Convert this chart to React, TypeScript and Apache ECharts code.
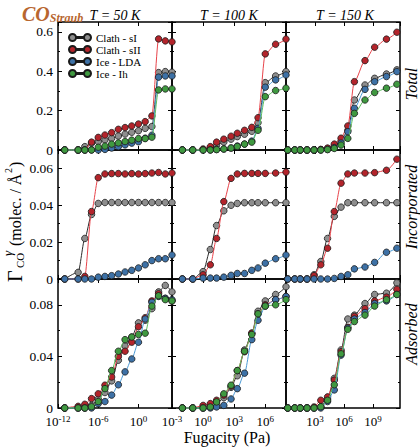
import React, { useEffect, useRef } from "react";
import * as echarts from "echarts";

// ---- data (fugacity in Pa, loadings in molec./Å²) ----
const SERIES_NAMES = ["Clath - sI", "Clath - sII", "Ice - LDA", "Ice - Ih"];
const T_LABELS = ["T = 50 K", "T = 100 K", "T = 150 K"];
const ROW_LABELS = ["Total", "Incorporated", "Adsorbed"];

const F_50 = [1e-11, 1e-9, 1e-8, 1e-7, 1e-6, 1e-5, 1e-4, 1e-3, 1e-2, 1e-1, 1, 10, 100, 1e3, 1e4, 1e5];
const F_100 = [0.01, 0.1, 1, 5, 20, 100, 500, 2e3, 1e4, 5e4, 2e5, 1e6, 1e7, 1e8];
const F_150 = [1.5, 8, 30, 150, 800, 4e3, 2e4, 1e5, 5e5, 2.5e6, 1.2e7, 1.5e8, 1.5e9, 2.5e10, 3e11];

// Total
const TOT_50_SI = [0, 0, 0.017, 0.034, 0.042, 0.051, 0.059, 0.071, 0.081, 0.09, 0.098, 0.11, 0.119, 0.393, 0.398, 0.395];
const TOT_50_SII = [0, 0, 0, 0.04, 0.064, 0.076, 0.088, 0.105, 0.114, 0.122, 0.132, 0.144, 0.173, 0.564, 0.554, 0.549];
const TOT_50_LDA = [0, 0, 0, 0, 0, 0.003, 0.01, 0.017, 0.026, 0.035, 0.042, 0.06, 0.075, 0.37, 0.376, 0.376];
const TOT_50_IH = [0, 0, 0, 0, 0.014, 0.02, 0.03, 0.036, 0.043, 0.05, 0.058, 0.058, 0.065, 0.305, 0.31, 0.31];

const TOT_100_SI = [0, 0, 0.002, 0.01, 0.025, 0.04, 0.055, 0.068, 0.08, 0.095, 0.139, 0.342, 0.376, 0.398];
const TOT_100_SII = [0, 0, 0.005, 0.017, 0.04, 0.055, 0.07, 0.085, 0.1, 0.115, 0.164, 0.488, 0.537, 0.563];
const TOT_100_LDA = [0, 0, 0, 0, 0.003, 0.005, 0.01, 0.02, 0.03, 0.045, 0.11, 0.319, 0.356, 0.381];
const TOT_100_IH = [0, 0, 0, 0, 0.002, 0.005, 0.01, 0.018, 0.03, 0.04, 0.1, 0.271, 0.302, 0.314];

const TOT_150_SI = [0, 0, 0, 0, 0, 0.002, 0.006, 0.02, 0.045, 0.1, 0.254, 0.33, 0.364, 0.386, 0.407];
const TOT_150_SII = [0, 0, 0, 0, 0, 0.003, 0.01, 0.03, 0.06, 0.122, 0.347, 0.454, 0.522, 0.563, 0.598];
const TOT_150_LDA = [0, 0, 0, 0, 0, 0, 0.003, 0.012, 0.035, 0.093, 0.212, 0.308, 0.347, 0.373, 0.398];
const TOT_150_IH = [0, 0, 0, 0, 0, 0, 0.002, 0.008, 0.025, 0.059, 0.186, 0.254, 0.292, 0.314, 0.334];

// Incorporated
const INC_50_SI = [0, 0.0036, 0.022, 0.035, 0.041, 0.0415, 0.0415, 0.0415, 0.0415, 0.0415, 0.0415, 0.0415, 0.0415, 0.0415, 0.0415, 0.0415];
const INC_50_SII = [0, 0, 0.0014, 0.0366, 0.055, 0.057, 0.0572, 0.0572, 0.057, 0.0572, 0.057, 0.0572, 0.0575, 0.0578, 0.057, 0.0575];
const INC_50_LDA = [0, 0, 0, 0, 0.001, 0.0014, 0.0018, 0.0027, 0.0038, 0.0047, 0.006, 0.0077, 0.01, 0.011, 0.011, 0.013];

const INC_100_SI = [0, 0, 0.004, 0.016, 0.029, 0.037, 0.04, 0.041, 0.0414, 0.0414, 0.0414, 0.0414, 0.0414, 0.0414];
const INC_100_SII = [0, 0, 0.0023, 0.0077, 0.022, 0.042, 0.0546, 0.057, 0.0573, 0.0573, 0.0573, 0.0573, 0.0575, 0.058];
const INC_100_LDA = [0, 0, 0.0005, 0.0005, 0.0005, 0.001, 0.002, 0.003, 0.003, 0.0047, 0.006, 0.0086, 0.011, 0.013];

const INC_150_SI = [0, 0, 0, 0, 0.0023, 0.0095, 0.022, 0.034, 0.039, 0.0414, 0.0414, 0.0414, 0.0414, 0.0414, 0.0414];
const INC_150_SII = [0, 0, 0, 0, 0.0018, 0.0077, 0.0167, 0.0366, 0.052, 0.057, 0.0575, 0.0575, 0.0577, 0.059, 0.065];
const INC_150_LDA = [0, 0, 0, 0, 0, 0, 0, 0.0003, 0.0014, 0.0023, 0.0055, 0.0065, 0.009, 0.0145, 0.0167];

// Adsorbed
const ADS_50_SI = [0, 0, 0, 0.002, 0.007, 0.012, 0.021, 0.037, 0.048, 0.055, 0.066, 0.068, 0.077, 0.09, 0.095, 0.09];
const ADS_50_SII = [0, 0.0013, 0.0029, 0.0073, 0.011, 0.0177, 0.024, 0.04, 0.044, 0.051, 0.063, 0.07, 0.083, 0.0886, 0.085, 0.083];
const ADS_50_LDA = [0, 0, 0, 0, 0.0034, 0.005, 0.01, 0.018, 0.028, 0.038, 0.051, 0.069, 0.082, 0.0865, 0.085, 0.084];
const ADS_50_IH = [0, 0, 0, 0.001, 0.005, 0.015, 0.029, 0.044, 0.053, 0.055, 0.057, 0.058, 0.079, 0.087, 0.084, 0.083];

const ADS_100_SI = [0, 0, 0, 0.0008, 0.003, 0.008, 0.016, 0.025, 0.045, 0.058, 0.075, 0.083, 0.088, 0.094];
const ADS_100_SII = [0, 0, 0.002, 0.0034, 0.006, 0.01, 0.017, 0.029, 0.0436, 0.058, 0.073, 0.08, 0.084, 0.0865];
const ADS_100_LDA = [0, 0, 0, 0, 0.0008, 0.002, 0.007, 0.015, 0.027, 0.053, 0.068, 0.079, 0.084, 0.0865];
const ADS_100_IH = [0, 0, 0, 0.0008, 0.0047, 0.011, 0.0177, 0.029, 0.044, 0.057, 0.073, 0.079, 0.08, 0.084];

const ADS_150_SI = [0, 0, 0, 0, 0, 0.001, 0.007, 0.023, 0.045, 0.069, 0.072, 0.081, 0.088, 0.089, 0.097];
const ADS_150_SII = [0, 0, 0, 0, 0.0008, 0.006, 0.0086, 0.0216, 0.0436, 0.0626, 0.071, 0.077, 0.083, 0.086, 0.092];
const ADS_150_LDA = [0, 0, 0, 0, 0, 0, 0.005, 0.014, 0.041, 0.062, 0.069, 0.074, 0.081, 0.083, 0.088];
const ADS_150_IH = [0, 0, 0, 0, 0, 0.001, 0.006, 0.018, 0.042, 0.061, 0.067, 0.072, 0.079, 0.084, 0.088];

// ---- layout / style ----
const FONT = '"Liberation Serif", "Times New Roman", serif';
const LINE_COLORS = ["#2b2b2b", "#e8434a", "#4b9ad6", "#5cbf5c"];
const FILL_COLORS = ["#8e8e8e", "#b3242b", "#3d71a6", "#3f9940"];
const COL_LEFT = [58, 172, 286];
const COL_W = 114;
const ROW_TOP = [22, 150, 279];
const ROW_H = [128, 129, 129];
const X_MIN = [-12, -3, 0];
const X_MAX = [5, 8, 11.8];
const X_INT = [6, 3, 3];
const Y_MAX = [0.65, 0.07, 0.1];
const Y_INT = [0.2, 0.02, 0.04];
const ROW_LABEL_Y = [84, 207, 334];

const FUG = [F_50, F_100, F_150];
const PANELS: (number[] | null)[][][] = [
  [
    [TOT_50_SI, TOT_50_SII, TOT_50_LDA, TOT_50_IH],
    [TOT_100_SI, TOT_100_SII, TOT_100_LDA, TOT_100_IH],
    [TOT_150_SI, TOT_150_SII, TOT_150_LDA, TOT_150_IH],
  ],
  [
    [INC_50_SI, INC_50_SII, INC_50_LDA, null],
    [INC_100_SI, INC_100_SII, INC_100_LDA, null],
    [INC_150_SI, INC_150_SII, INC_150_LDA, null],
  ],
  [
    [ADS_50_SI, ADS_50_SII, ADS_50_LDA, ADS_50_IH],
    [ADS_100_SI, ADS_100_SII, ADS_100_LDA, ADS_100_IH],
    [ADS_150_SI, ADS_150_SII, ADS_150_LDA, ADS_150_IH],
  ],
];

const LEGEND_ICON =
  "path://M0,3.5a3.5,3.5 0 1,0 7,0a3.5,3.5 0 1,0 -7,0z M7,3.1h8v0.8h-8z M15,3.5a3.5,3.5 0 1,0 7,0a3.5,3.5 0 1,0 -7,0z";

function buildOption() {
  const grid: any[] = [];
  const xAxis: any[] = [];
  const yAxis: any[] = [];
  const series: any[] = [];
  const tick = { inside: true, length: 4, lineStyle: { color: "#000", width: 1 } };
  const line = { show: false, onZero: false };
  for (let r = 0; r < 3; r++) {
    for (let c = 0; c < 3; c++) {
      const g = r * 3 + c;
      grid.push({
        left: COL_LEFT[c],
        top: ROW_TOP[r],
        width: COL_W,
        height: ROW_H[r],
        show: true,
        borderColor: "#000",
        borderWidth: 1.5,
        backgroundColor: "transparent",
      });
      const xBase = {
        gridIndex: g,
        type: "value",
        min: X_MIN[c],
        max: X_MAX[c],
        interval: X_INT[c],
        axisLine: line,
        splitLine: { show: false },
        axisTick: tick,
      };
      xAxis.push({
        ...xBase,
        position: "bottom",
        axisLabel: {
          show: r === 2,
          margin: 7,
          showMinLabel: c !== 2,
          showMaxLabel: false,
          formatter: (v: number) => `{b|10}{s|${Math.round(v)}}`,
          rich: {
            b: { fontFamily: FONT, fontSize: 13, color: "#000", lineHeight: 13 },
            s: { fontFamily: FONT, fontSize: 9, color: "#000", lineHeight: 9, padding: [0, 0, 5, 0] },
          },
        },
      });
      xAxis.push({ ...xBase, position: "top", axisLabel: { show: false } });
      const yBase = {
        gridIndex: g,
        type: "value",
        min: 0,
        max: Y_MAX[r],
        interval: Y_INT[r],
        axisLine: line,
        splitLine: { show: false },
        axisTick: tick,
        minorTick: { show: true, splitNumber: 2, length: 2, lineStyle: { color: "#000", width: 1 } },
      };
      yAxis.push({
        ...yBase,
        position: "left",
        axisLabel: {
          show: c === 0,
          margin: 5,
          showMaxLabel: false,
          fontFamily: FONT,
          fontSize: 13.5,
          lineHeight: 11,
          color: "#000",
        },
      });
      yAxis.push({ ...yBase, position: "right", axisLabel: { show: false } });

      const fx = FUG[c];
      PANELS[r][c].forEach((vals, k) => {
        if (!vals) return;
        series.push({
          type: "line",
          name: SERIES_NAMES[k],
          xAxisIndex: g * 2,
          yAxisIndex: g * 2,
          data: fx.map((f, i) => [Math.log10(f), vals[i]]),
          symbol: "circle",
          symbolSize: 6.5,
          smooth: 0.25,
          smoothMonotone: "x",
          clip: false,
          lineStyle: { color: LINE_COLORS[k], width: 1 },
          itemStyle: { color: FILL_COLORS[k], borderColor: "#1a1a1a", borderWidth: 0.8 },
          emphasis: { disabled: true },
          z: 2 + k,
        });
      });
    }
  }

  const titleTexts = T_LABELS.map((t, c) => ({
    type: "text",
    x: COL_LEFT[c] + COL_W / 2 + (c === 2 ? 2 : 0),
    y: 15,
    style: { text: t, font: `italic 14px ${FONT}`, fill: "#000", align: "center", verticalAlign: "middle" },
  }));
  const rowTexts = ROW_LABELS.map((t, r) => ({
    type: "text",
    x: 411,
    y: ROW_LABEL_Y[r],
    rotation: Math.PI / 2,
    style: { text: t, font: `italic 16px ${FONT}`, fill: "#000", align: "center", verticalAlign: "middle" },
  }));

  const graphic: any[] = [
    ...titleTexts,
    ...rowTexts,
    {
      type: "text",
      x: 22,
      y: 14,
      style: {
        text: "{a|CO}{b|Straub}",
        rich: {
          a: { font: `italic bold 20px ${FONT}`, fill: "#b8662f", color: "#b8662f" },
          b: { font: `italic bold 12px ${FONT}`, fill: "#b8662f", color: "#b8662f", padding: [8, 0, 0, 0] },
        },
        align: "left",
        verticalAlign: "middle",
      },
    },
    {
      type: "text",
      x: 227,
      y: 437,
      style: { text: "Fugacity (Pa)", font: `16px ${FONT}`, fill: "#000", align: "center", verticalAlign: "middle" },
    },
    {
      type: "group",
      x: 15,
      y: 282,
      rotation: Math.PI / 2,
      children: [
        { type: "text", x: 0, y: 0, style: { text: "Γ", font: `20px ${FONT}`, fill: "#000", verticalAlign: "middle" } },
        { type: "text", x: 14, y: 5, style: { text: "CO", font: `11px ${FONT}`, fill: "#000", verticalAlign: "middle" } },
        { type: "text", x: 26, y: -8, style: { text: "γ", font: `italic 13px ${FONT}`, fill: "#000", verticalAlign: "middle" } },
        { type: "text", x: 36, y: 0, style: { text: "(molec. / Å", font: `16px ${FONT}`, fill: "#000", verticalAlign: "middle" } },
        { type: "text", x: 109, y: -7, style: { text: "2", font: `10px ${FONT}`, fill: "#000", verticalAlign: "middle" } },
        { type: "text", x: 115, y: 0, style: { text: ")", font: `16px ${FONT}`, fill: "#000", verticalAlign: "middle" } },
      ],
    },
  ];

  return {
    animation: false,
    backgroundColor: "#fff",
    grid,
    xAxis,
    yAxis,
    series,
    legend: {
      data: SERIES_NAMES,
      left: 63,
      top: 27,
      orient: "vertical",
      icon: LEGEND_ICON,
      itemWidth: 22,
      itemHeight: 7,
      itemGap: 1,
      selectedMode: false,
      textStyle: { fontFamily: FONT, fontSize: 11, color: "#000", lineHeight: 11 },
    },
    graphic,
  };
}

export default function App() {
  const ref = useRef<HTMLDivElement>(null);
  useEffect(() => {
    if (!ref.current) return;
    const chart = echarts.init(ref.current, undefined, { renderer: "svg" });
    chart.setOption(buildOption() as any);
    return () => chart.dispose();
  }, []);
  return (
    <div
      ref={ref}
      style={{ position: "absolute", left: 0, top: 0, width: 420, height: 448, background: "#fff" }}
    />
  );
}
